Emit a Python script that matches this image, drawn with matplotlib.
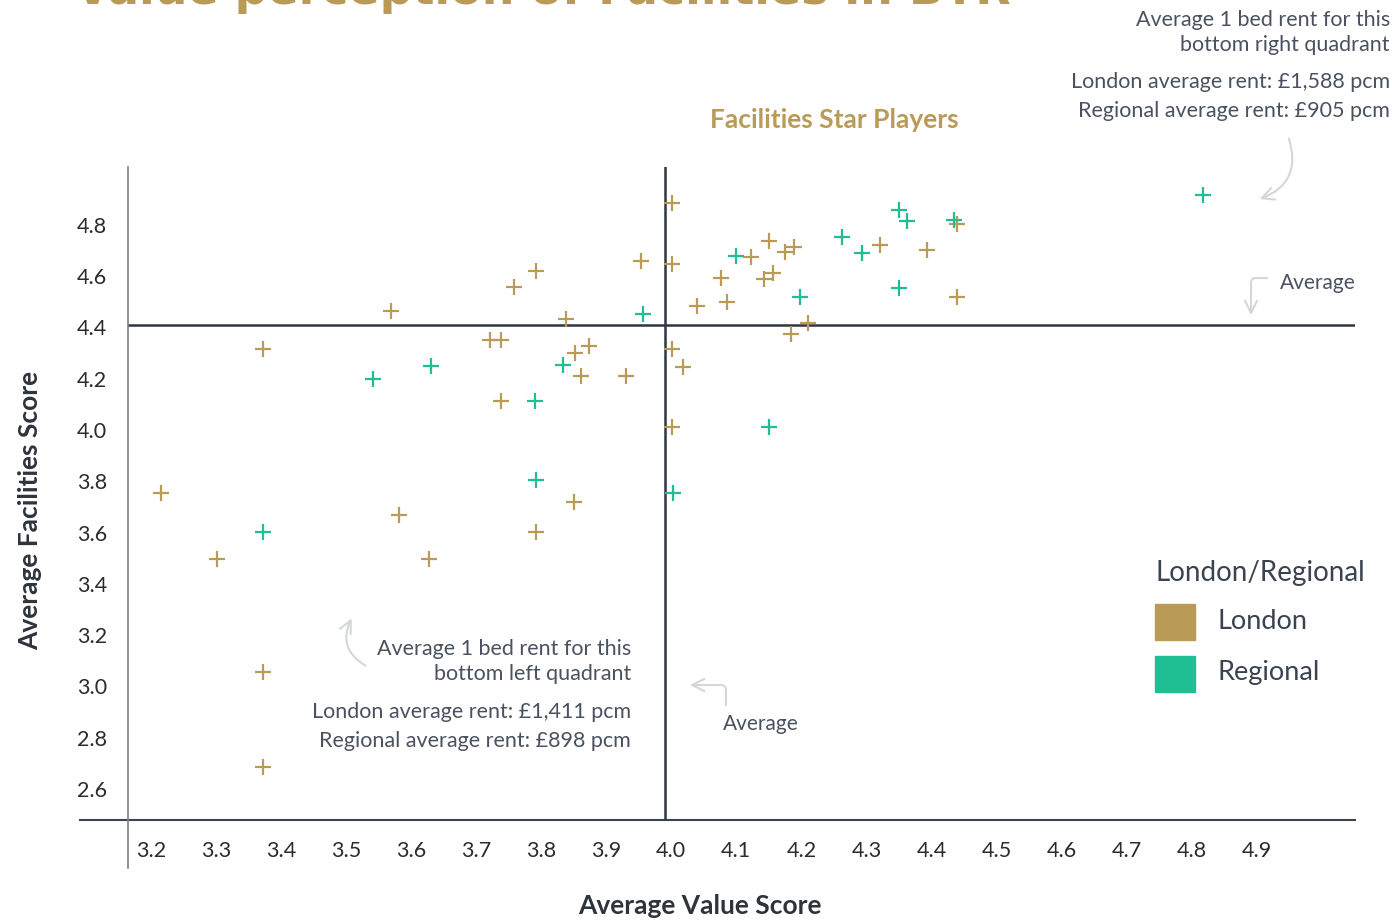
import matplotlib.pyplot as plt
from matplotlib.patches import Rectangle

# London points (value score, facilities score)
london_x = [3.215, 3.302, 3.373, 3.372, 3.372, 3.569, 3.581, 3.627, 3.721, 3.739,
            3.739, 3.759, 3.792, 3.792, 3.838, 3.852, 3.874, 3.862, 3.851, 3.931,
            3.954, 4.001, 4.001, 4.001, 4.018, 4.001, 4.039, 4.076, 4.086, 4.122,
            4.151, 4.142, 4.156, 4.175, 4.188, 4.184, 4.210, 4.321, 4.393, 4.440,
            4.439]
london_y = [3.753, 3.497, 4.316, 3.056, 2.686, 4.466, 3.669, 3.497, 4.350, 4.350,
            4.113, 4.558, 4.621, 3.601, 4.434, 4.301, 4.329, 4.211, 3.718, 4.211,
            4.660, 4.885, 4.647, 4.316, 4.245, 4.013, 4.484, 4.592, 4.498, 4.676,
            4.738, 4.588, 4.612, 4.696, 4.715, 4.375, 4.417, 4.721, 4.701, 4.803,
            4.520]

# Regional points
regional_x = [3.373, 3.542, 3.630, 3.791, 3.792, 3.834, 3.957, 4.002, 4.100, 4.151,
              4.198, 4.263, 4.293, 4.350, 4.363, 4.350, 4.435, 4.817]
regional_y = [3.601, 4.199, 4.250, 4.113, 3.805, 4.254, 4.453, 3.753, 4.680, 4.012,
              4.520, 4.752, 4.692, 4.859, 4.816, 4.554, 4.820, 4.917]

avg_value = 3.99
avg_facilities = 4.41

x_ticks = [3.2, 3.3, 3.4, 3.5, 3.6, 3.7, 3.8, 3.9, 4.0, 4.1, 4.2, 4.3, 4.4, 4.5, 4.6, 4.7, 4.8, 4.9]
y_ticks = [2.6, 2.8, 3.0, 3.2, 3.4, 3.6, 3.8, 4.0, 4.2, 4.4, 4.6, 4.8]

gold = '#B99B57'
teal = '#1FBF93'
dark = '#3B4350'
grey_txt = '#4A5260'
arrow_c = '#D3D6DB'

plt.rcParams['font.family'] = ['Lato', 'DejaVu Sans']

W, H = 1392, 922
fig = plt.figure(figsize=(W / 100, H / 100), dpi=100)


def fx(px):
    return px / W


def fy(py):
    return 1 - py / H


ax = fig.add_axes([fx(128), fy(820), fx(1355) - fx(128), fy(167) - fy(820)])
ax.set_xlim(3.165, 5.051)
ax.set_ylim(2.479, 5.026)

ax.plot(london_x, london_y, '+', color=gold, ms=12, mew=1.6, zorder=3)
ax.plot(regional_x, regional_y, '+', color=teal, ms=12, mew=1.6, zorder=3)

# average lines
ax.axvline(avg_value, color='#2E3642', lw=1.8, zorder=2)
ax.axhline(avg_facilities, color='#2E3642', lw=1.8, zorder=2)

for s in ax.spines.values():
    s.set_visible(False)
# crossing axis lines
ax.plot([-0.039, 1], [0, 0], transform=ax.transAxes, color=dark, lw=1.5, clip_on=False)
ax.plot([0, 0], [-0.074, 1], transform=ax.transAxes, color='#7A818C', lw=1.2, clip_on=False)

ax.set_xticks(x_ticks)
ax.set_yticks(y_ticks)
ax.set_xticklabels([f'{v:.1f}' for v in x_ticks])
ax.set_yticklabels([f'{v:.1f}' for v in y_ticks])
ax.tick_params(length=0, labelsize=15.5, colors='#2B2B2B')
ax.tick_params(axis='x', pad=15)
ax.tick_params(axis='y', pad=15)

fig.text(fx(700), fy(906), 'Average Value Score', ha='center', va='center',
         fontsize=19, fontweight='bold', color='#2F343B')
fig.text(fx(30), fy(510), 'Average Facilities Score', ha='center', va='center',
         rotation=90, fontsize=19, fontweight='bold', color='#2F343B')

# title, cut off at the top like the source
fig.text(fx(75), fy(4), 'Value perception of Facilities in BTR', ha='left', va='baseline',
         fontsize=33, fontweight='bold', color=gold, family='DejaVu Sans')

fig.text(fx(834), fy(120), 'Facilities Star Players', ha='center', va='center',
         fontsize=19, fontweight='bold', color=gold)

# annotations
for txt, py in [('Average 1 bed rent for this', 20), ('bottom right quadrant', 45),
                ('London average rent: £1,588 pcm', 82), ('Regional average rent: £905 pcm', 111)]:
    fig.text(fx(1390), fy(py), txt, ha='right', va='center', fontsize=15.5, color=grey_txt)

for txt, py in [('Average 1 bed rent for this', 649), ('bottom left quadrant', 674),
                ('London average rent: £1,411 pcm', 712), ('Regional average rent: £898 pcm', 741)]:
    fig.text(fx(631), fy(py), txt, ha='right', va='center', fontsize=15.5, color=grey_txt)

fig.text(fx(1280), fy(283), 'Average', ha='left', va='center', fontsize=15, color=grey_txt)
fig.text(fx(723), fy(724), 'Average', ha='left', va='center', fontsize=15, color=grey_txt)

arrow = dict(arrowstyle='->', color=arrow_c, lw=1.5, mutation_scale=22)
ax.annotate('', xy=(1257, H - 200), xytext=(1288, H - 136), xycoords='figure pixels',
            textcoords='figure pixels', arrowprops=dict(arrow, connectionstyle='arc3,rad=-0.5'))
ax.annotate('', xy=(1251, H - 318), xytext=(1270, H - 278), xycoords='figure pixels',
            textcoords='figure pixels', arrowprops=dict(arrow, connectionstyle='angle,angleA=180,angleB=90,rad=5'))
ax.annotate('', xy=(353, H - 616), xytext=(368, H - 667), xycoords='figure pixels',
            textcoords='figure pixels', arrowprops=dict(arrow, connectionstyle='arc3,rad=-0.5'))
ax.annotate('', xy=(687, H - 685), xytext=(726, H - 708), xycoords='figure pixels',
            textcoords='figure pixels', arrowprops=dict(arrow, connectionstyle='angle,angleA=90,angleB=0,rad=5'))

# legend
fig.text(fx(1156), fy(573), 'London/Regional', ha='left', va='center', fontsize=20, color=dark)
fig.add_artist(Rectangle((fx(1155), fy(640)), fx(40), 36 / H, color=gold, transform=fig.transFigure))
fig.add_artist(Rectangle((fx(1155), fy(692)), fx(40), 36 / H, color=teal, transform=fig.transFigure))
fig.text(fx(1217), fy(621), 'London', ha='left', va='center', fontsize=19.5, color=dark)
fig.text(fx(1217), fy(672), 'Regional', ha='left', va='center', fontsize=19.5, color=dark)

fig.savefig('out.png', dpi=100)
